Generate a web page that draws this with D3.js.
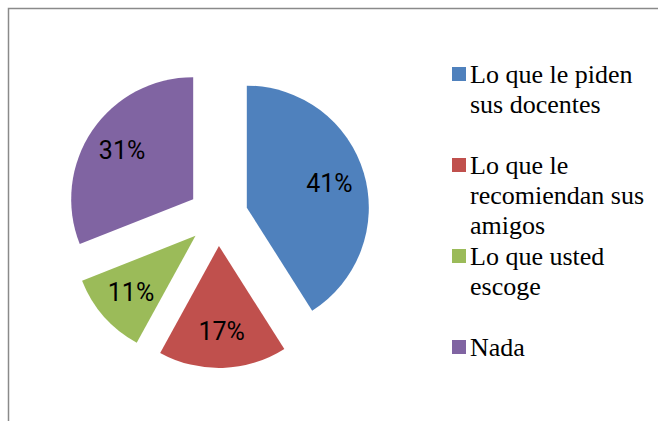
<!DOCTYPE html>
<html>
<head>
<meta charset="utf-8">
<script src="https://cdn.jsdelivr.net/npm/d3@7"></script>
<style>
  html, body { margin: 0; padding: 0; background: #fff; }
  svg { display: block; }
</style>
</head>
<body>
<svg id="chart" width="658" height="421"></svg>
<script>
const categories = ["Lo que le piden sus docentes", "Lo que le recomiendan sus amigos", "Lo que usted escoge", "Nada"];
const values = [41, 17, 11, 31];
const labels = ["41%", "17%", "11%", "31%"];
const colors = ["#4F81BD", "#C0504D", "#9BBB59", "#8064A2"];

const svg = d3.select("#chart");

// frame (partially visible)
svg.append("rect")
  .attr("x", 8.5).attr("y", 8.5)
  .attr("width", 720).attr("height", 500)
  .attr("fill", "none")
  .attr("stroke", "#8a8a8a")
  .attr("stroke-width", 1.5);

const cx = 218, cy = 216, r = 122, explode = 30, labelR = 86;

const pie = d3.pie().sort(null).value(d => d)(values);
const arc = d3.arc().innerRadius(0).outerRadius(r);

const g = svg.append("g").attr("transform", `translate(${cx},${cy})`);

const slices = g.selectAll("g.slice").data(pie).enter().append("g")
  .attr("class", "slice")
  .attr("transform", d => {
    const a = (d.startAngle + d.endAngle) / 2;
    return `translate(${explode * Math.sin(a)},${-explode * Math.cos(a)})`;
  });

slices.append("path")
  .attr("d", arc)
  .attr("fill", (d, i) => colors[i]);

slices.append("text")
  .attr("x", d => labelR * Math.sin((d.startAngle + d.endAngle) / 2))
  .attr("y", d => -labelR * Math.cos((d.startAngle + d.endAngle) / 2))
  .attr("text-anchor", "middle")
  .attr("dominant-baseline", "central")
  .style("font-family", '"Roboto"')
  .style("font-size", "25px")
  .style("fill", "#000")
  .text((d, i) => labels[i]);

// legend
const legX = 452, textX = 470, base0 = 83, step = 91, lineH = 30, maxW = 185;
const legFont = '"Liberation Serif"', legSize = "26px";
const leg = svg.append("g");

// measuring helper
const meas = svg.append("text").style("font-family", legFont).style("font-size", legSize)
  .attr("x", -1000).attr("y", -1000);
function wrap(str) {
  const words = str.split(" ");
  const lines = [];
  let cur = [];
  words.forEach(w => {
    const test = cur.concat([w]).join(" ");
    meas.text(test);
    if (meas.node().getComputedTextLength() > maxW && cur.length) {
      lines.push(cur.join(" "));
      cur = [w];
    } else {
      cur.push(w);
    }
  });
  if (cur.length) lines.push(cur.join(" "));
  return lines;
}

categories.forEach((name, i) => {
  const by = base0 + i * step;
  leg.append("rect")
    .attr("x", legX).attr("y", by - 16)
    .attr("width", 14).attr("height", 14)
    .attr("fill", colors[i]);
  wrap(name).forEach((ln, k) => {
    leg.append("text")
      .attr("x", textX).attr("y", by + k * lineH)
      .style("font-family", legFont)
      .style("font-size", legSize)
      .style("fill", "#000")
      .text(ln);
  });
});
meas.remove();
</script>
</body>
</html>
